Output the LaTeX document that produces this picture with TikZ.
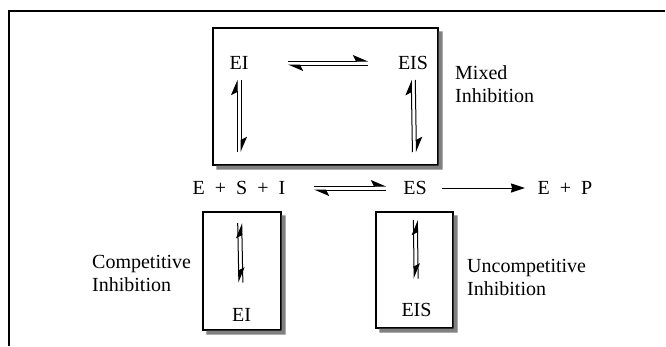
\documentclass[tikz,border=0pt]{standalone}
\usepackage{fontspec}
\setmainfont{Liberation Serif}
\usetikzlibrary{arrows.meta,calc}
\tikzset{
  species/.style={font=\fontsize{20}{23}\selectfont, text height=13pt, text depth=0pt, inner sep=0pt},
  caption/.style={font=\fontsize{20}{23}\selectfont, align=left, inner sep=0pt, anchor=north west},
  panel/.style={rectangle, draw, line width=1.2pt, fill=white},
  shade/.style={fill=black!50, draw=none},
  harp/.style={line width=1pt, -{Stealth[left, length=14pt, width=12pt, inset=3pt]}},
  arrow/.style={line width=1pt, -{Stealth[length=14pt, width=9pt, inset=1pt]}},
}

\begin{document}
\begin{tikzpicture}[x=1pt, y=-1pt]
    \useasboundingbox (0,0) rectangle (666,346);

    % Frame
    \draw[line width=2pt] (9,346) -- (9,11) -- (665,11);

    % Boxes
    \node[panel, minimum width=225pt, minimum height=137pt] (mixbox) at (325.5,96.5) {};
    \node[panel, minimum width=78pt, minimum height=118pt] (compbox) at (242,271) {};
    \node[panel, minimum width=77pt, minimum height=116pt] (uncompbox) at (414.5,270) {};

    % Shadows of the boxes
    \foreach \bx in {mixbox,compbox,uncompbox}
        \fill[shade] ($(\bx.north east)+(0,4)$) -- ($(\bx.north east)+(4,4)$) -- ($(\bx.south east)+(4,4)$)
                     -- ($(\bx.south west)+(4,4)$) -- ($(\bx.south west)+(4,0)$) -- (\bx.south east) -- cycle;

    % Species
    \node[species] (ei) at (239,63) {EI};
    \node[species] (eis) at (413,63) {EIS};
    \node[species] (esi) at (239,188) {E\enspace+\enspace S\enspace+\enspace I};
    \node[species] (es) at (415,188) {ES};
    \node[species] (ep) at (565,188) {E\enspace+\enspace P};
    \node[species] (eic) at (241.5,314.5) {EI};
    \node[species] (eisu) at (416.5,309.5) {EIS};

    % Labels
    \node[caption] (mixed) at (455,65) {Mixed\\Inhibition};
    \node[caption] (comp) at (92,255) {Competitive\\Inhibition};
    \node[caption] (uncomp) at (467,259) {Uncompetitive\\Inhibition};

    % Mixed Inhibition
    \draw[harp, shorten <=49pt, shorten >=45pt] ([yshift=2pt]ei.center) -- ([yshift=2pt]eis.center);
    \draw[harp, shorten <=45pt, shorten >=49pt] ([yshift=-2pt]eis.center) -- ([yshift=-2pt]ei.center);
    \draw[harp, shorten <=36pt, shorten >=17pt] ([xshift=-2pt]esi.center) -- ([xshift=-2pt]ei.center);
    \draw[harp, shorten <=17pt, shorten >=36pt] ([xshift=2pt]ei.center) -- ([xshift=2pt]esi.center);
    \draw[harp, shorten <=36pt, shorten >=17pt] ([xshift=-2pt]es.center) -- ([xshift=-2pt]eis.center);
    \draw[harp, shorten <=17pt, shorten >=36pt] ([xshift=2pt]eis.center) -- ([xshift=2pt]es.center);

    % Main Flow
    \draw[harp, shorten <=75pt, shorten >=29pt] ([yshift=2pt]esi.center) -- ([yshift=2pt]es.center);
    \draw[harp, shorten <=29pt, shorten >=75pt] ([yshift=-2pt]es.center) -- ([yshift=-2pt]esi.center);
    \draw[arrow, shorten <=27pt, shorten >=40pt] (es.center) -- (ep.center);

    % Competitive / Uncompetitive
    \draw[harp, shorten <=35pt, shorten >=32pt] ([xshift=-2pt]esi.center) -- ([xshift=-2pt]eic.center);
    \draw[harp, shorten <=32pt, shorten >=35pt] ([xshift=2pt]eic.center) -- ([xshift=2pt]esi.center);
    \draw[harp, shorten <=32pt, shorten >=31pt] ([xshift=-2pt]es.center) -- ([xshift=-2pt]eisu.center);
    \draw[harp, shorten <=31pt, shorten >=32pt] ([xshift=2pt]eisu.center) -- ([xshift=2pt]es.center);

\end{tikzpicture}
\end{document}
